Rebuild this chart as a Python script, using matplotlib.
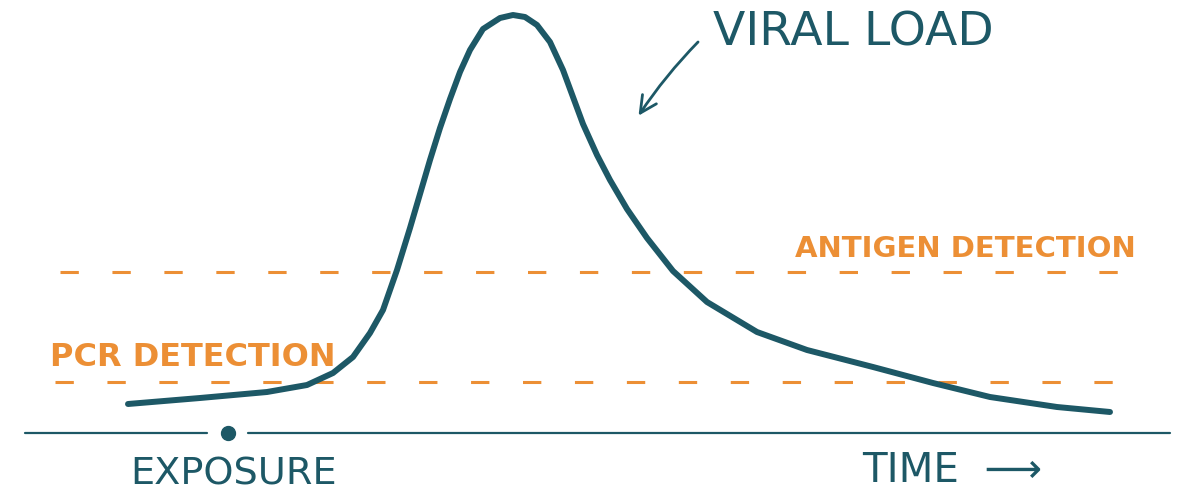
import matplotlib.pyplot as plt

# colours of the sketch
teal = '#1d5866'
orange = '#ec8f35'

# viral load curve (time, load above the time axis)
time = [128, 200, 267, 307, 333, 353, 370, 383, 397, 410, 420, 430, 440, 450,
        460, 470, 483, 500, 513, 525, 537, 550, 563, 573, 583, 597, 610, 627,
        647, 673, 707, 757, 807, 873, 933, 990, 1057, 1110]
load = [29, 35, 41, 48, 60, 76, 100, 123, 163, 205, 239, 273, 305, 334,
        361, 383, 404, 415, 418, 416, 408, 391, 363, 336, 309, 278, 253, 224,
        195, 162, 131, 101, 83, 66, 50, 36, 26, 21]

# detection thresholds
antigen_level = 161
pcr_level = 51
exposure_time = 228

fig = plt.figure(figsize=(11.99, 4.94), dpi=100)
ax = fig.add_axes([0, 0, 1, 1])
ax.set_xlim(0, 1199)
ax.set_ylim(-61, 433)
ax.axis('off')

# time axis with a gap around the exposure dot
ax.plot([25, 207], [0, 0], color=teal, lw=1.6, solid_capstyle='round')
ax.plot([248, 1170], [0, 0], color=teal, lw=1.6, solid_capstyle='round')
ax.plot([exposure_time], [0], 'o', color=teal, ms=10)

# detection thresholds
ax.plot([60, 1135], [antigen_level, antigen_level], color=orange, lw=2.2,
        dashes=(6, 11))
ax.plot([55, 1140], [pcr_level, pcr_level], color=orange, lw=2.2,
        dashes=(6, 11))

# viral load
ax.plot(time, load, color=teal, lw=4.3, solid_capstyle='round',
        solid_joinstyle='round')

# labels
ax.text(713, 400, 'VIRAL LOAD', color=teal, fontsize=34, va='center',
        ha='left')
ax.annotate('', xy=(637, 315), xytext=(700, 393),
            arrowprops=dict(arrowstyle='->', color=teal, lw=2,
                            connectionstyle='arc3,rad=0.05',
                            mutation_scale=30))
ax.text(795, 184, 'ANTIGEN DETECTION', color=orange, fontsize=21,
        fontweight='bold', va='center', ha='left')
ax.text(50, 76, 'PCR DETECTION', color=orange, fontsize=23,
        fontweight='bold', va='center', ha='left')
ax.text(130, -41, 'EXPOSURE', color=teal, fontsize=27.5, va='center',
        ha='left')
ax.text(862, -38, 'TIME  \u27f6', color=teal, fontsize=29, va='center',
        ha='left')

fig.savefig('out.png', dpi=100)
